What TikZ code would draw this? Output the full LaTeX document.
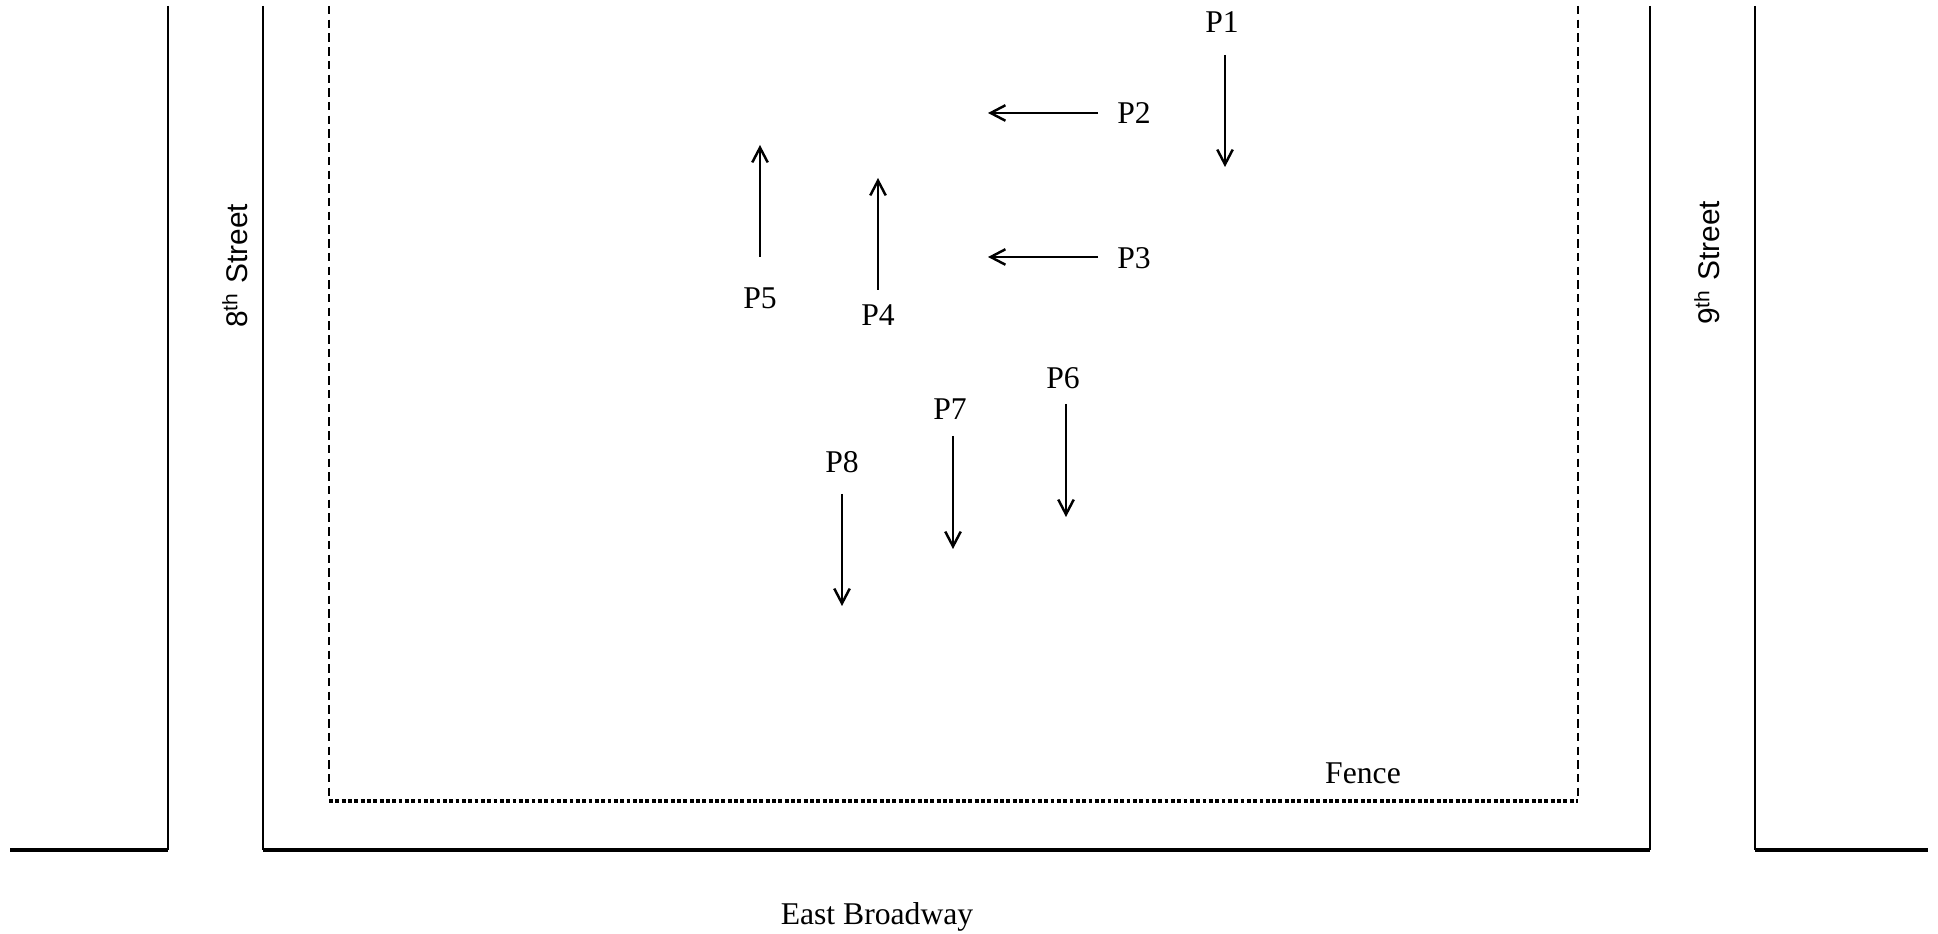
\documentclass[tikz,border=0pt]{standalone}
\usepackage{fontspec}
\setmainfont{Liberation Serif}
\setsansfont{Liberation Sans}
\usetikzlibrary{arrows.meta}
\begin{document}
\begin{tikzpicture}[x=0.01cm,y=-0.01cm,
  street/.style={line width=0.7pt},
  kerb/.style={line width=1pt},
  fence/.style={line width=0.65pt,dash pattern=on 2.4pt off 1.5pt},
  fencelow/.style={line width=0.9pt,dash pattern=on 1.1pt off 0.7pt},
  walk/.style={line width=0.7pt,-{Straight Barb[length=4.2pt,width=4.4pt]}},
  lbl/.style={font=\fontsize{9}{11}\selectfont,inner sep=0pt},
  sname/.style={font=\sffamily\fontsize{8.5}{10}\selectfont,rotate=90,inner sep=0pt}]
\useasboundingbox (0,0) rectangle (1938,934);
% streets
\draw[street] (168,6) -- (168,850);
\draw[kerb] (10,850) -- (168,850);
\draw[street] (263,6) -- (263,850);
\draw[kerb] (263,850) -- (1650,850);
\draw[street] (1650,6) -- (1650,850);
\draw[street] (1755,6) -- (1755,850);
\draw[kerb] (1755,850) -- (1928,850);
% fence
\draw[fence] (329,6) -- (329,801);
\draw[fence] (1578,6) -- (1578,801);
\draw[fencelow] (329,801) -- (1578,801);
% names
\node[sname] (eighth) at (235,266) {8\textsuperscript{th} Street};
\node[sname] (ninth) at (1707,263) {9\textsuperscript{th} Street};
\node[lbl] (broadway) at (877,917) {East Broadway};
\node[lbl] (fencelbl) at (1363,773) {Fence};
% people
\node[lbl] (p1) at (1222,22) {P1};
\node[lbl] (p2) at (1134,113) {P2};
\node[lbl] (p3) at (1134,258) {P3};
\node[lbl] (p4) at (878,315) {P4};
\node[lbl] (p5) at (760,298) {P5};
\node[lbl] (p6) at (1063,378) {P6};
\node[lbl] (p7) at (950,409) {P7};
\node[lbl] (p8) at (842,462) {P8};
\coordinate (p1a) at (1225,55);  \coordinate (p1b) at (1225,167);
\coordinate (p2a) at (1098,113); \coordinate (p2b) at (988,113);
\coordinate (p3a) at (1098,257); \coordinate (p3b) at (988,257);
\coordinate (p4a) at (878,290);  \coordinate (p4b) at (878,178);
\coordinate (p5a) at (760,257);  \coordinate (p5b) at (760,145);
\coordinate (p6a) at (1066,404); \coordinate (p6b) at (1066,517);
\coordinate (p7a) at (953,436);  \coordinate (p7b) at (953,549);
\coordinate (p8a) at (842,494);  \coordinate (p8b) at (842,606);
\draw[walk] (p1a) -- (p1b);
\draw[walk] (p2a) -- (p2b);
\draw[walk] (p3a) -- (p3b);
\draw[walk] (p4a) -- (p4b);
\draw[walk] (p5a) -- (p5b);
\draw[walk] (p6a) -- (p6b);
\draw[walk] (p7a) -- (p7b);
\draw[walk] (p8a) -- (p8b);
\end{tikzpicture}
\end{document}
